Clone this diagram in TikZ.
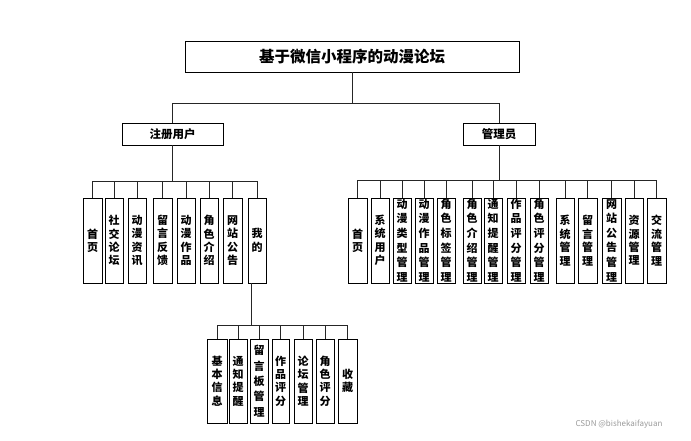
\documentclass[tikz,border=0pt]{standalone}
\usepackage{fontspec}
\setmainfont{Noto Sans CJK SC}
\begin{document}
\begin{tikzpicture}[x=1pt,y=-1pt,
  bx/.style={draw=black,line width=0.8pt,inner sep=0pt,align=center,fill=white},
  vt/.style={font=\bfseries\fontsize{11}{13.4}\selectfont},
  vtl/.style={font=\bfseries\fontsize{11}{14.6}\selectfont},
  vtm/.style={font=\bfseries\fontsize{11}{15.4}\selectfont},
  ln/.style={draw=black!85,line width=0.8pt},
]
\useasboundingbox (0,0) rectangle (691,440);
\newcommand\mybox[7][vt]{%
  \node[bx,#1,minimum width={(#4-#3)*1pt},minimum height={(#6-#5)*1pt}]
    (#2) at ({(#3+#4)/2},{(#5+#6)/2}) {#7};}
% root
\node[bx,minimum width=334pt,minimum height=31pt,font=\bfseries\fontsize{15.5}{17}\selectfont]
  (root) at (352,56.5) {基于微信小程序的动漫论坛};
\node[bx,minimum width=101pt,minimum height=22pt,font=\bfseries\fontsize{11.5}{13}\selectfont]
  (user) at (172.5,134) {注册用户};
\node[bx,minimum width=72pt,minimum height=22pt,font=\bfseries\fontsize{11.5}{13}\selectfont]
  (admin) at (499,134) {管理员};
\draw[ln] (root.south) -- (root.south |- 0,103) -| (user.north);
\draw[ln] (root.south) -- (root.south |- 0,103) -| (admin.north);
% user children
\mybox{u1}{83}{102}{198}{283}{首\\页}
\mybox{u2}{105}{123}{198}{283}{社\\交\\论\\坛}
\mybox{u3}{128}{146}{198}{283}{动\\漫\\资\\讯}
\mybox{u4}{153}{172}{198}{283}{留\\言\\反\\馈}
\mybox{u5}{177}{195}{198}{283}{动\\漫\\作\\品}
\mybox{u6}{200}{218}{198}{283}{角\\色\\介\\绍}
\mybox{u7}{223}{242}{198}{283}{网\\站\\公\\告}
\mybox{u8}{248}{266}{198}{283}{我\\的}
\foreach \c in {u1,u2,u3,u4,u5,u6,u7,u8}
  \draw[ln] (user.south) -- (user.south |- 0,181) -| (\c.north);
% admin children
\mybox{a1}{348}{367}{198}{283}{首\\页}
\mybox{a2}{371}{389}{198}{283}{系\\统\\用\\户}
\mybox[vtl]{a3}{393}{411}{198}{283}{动\\漫\\类\\型\\管\\理}
\mybox[vtl]{a4}{415}{433}{198}{283}{动\\漫\\作\\品\\管\\理}
\mybox[vtl]{a5}{437}{455}{198}{283}{角\\色\\标\\签\\管\\理}
\mybox[vtl]{a6}{463}{481}{198}{283}{角\\色\\介\\绍\\管\\理}
\mybox[vtl]{a7}{484}{502}{198}{283}{通\\知\\提\\醒\\管\\理}
\mybox[vtl]{a8}{507}{525}{198}{283}{作\\品\\评\\分\\管\\理}
\mybox[vtl]{a9}{530}{548}{198}{283}{角\\色\\评\\分\\管\\理}
\mybox{a10}{556}{574}{198}{283}{系\\统\\管\\理}
\mybox{a11}{578}{597}{198}{283}{留\\言\\管\\理}
\mybox[vtl]{a12}{602}{621}{198}{283}{网\\站\\公\\告\\管\\理}
\mybox{a13}{625}{643}{198}{283}{资\\源\\管\\理}
\mybox{a14}{647}{666}{198}{283}{交\\流\\管\\理}
\foreach \c in {a1,a2,a3,a4,a5,a6,a7,a8,a9,a10,a11,a12,a13,a14}
  \draw[ln] (admin.south) -- (admin.south |- 0,180) -| (\c.north);
% my children
\mybox{m1}{207}{227}{339}{423}{基\\本\\信\\息}
\mybox{m2}{229}{247}{339}{423}{通\\知\\提\\醒}
\mybox[vtm]{m3}{250}{268}{339}{423}{留\\言\\板\\管\\理}
\mybox{m4}{272}{289}{339}{423}{作\\品\\评\\分}
\mybox{m5}{294}{312}{339}{423}{论\\坛\\管\\理}
\mybox{m6}{316}{334}{339}{423}{角\\色\\评\\分}
\mybox{m7}{338}{357}{339}{423}{收\\藏}
\coordinate (wb) at ([xshift=-6pt]u8.south);
\foreach \c in {m1,m2,m3,m4,m5,m6,m7}
  \draw[ln] (wb) -- (wb |- 0,325) -| (\c.north);
\node[text=black!40,font=\fontsize{8}{9}\selectfont,inner sep=0pt] (wm) at (619,424) {CSDN @bishekaifayuan};
\end{tikzpicture}
\end{document}
